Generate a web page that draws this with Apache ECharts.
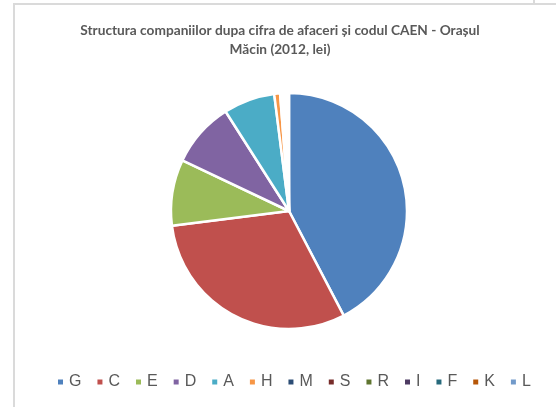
<!DOCTYPE html>
<html>
<head>
<meta charset="utf-8">
<script src="https://cdn.jsdelivr.net/npm/echarts@6/dist/echarts.min.js"></script>
<style>
html,body{margin:0;padding:0;background:#fff;}
#chart{width:556px;height:407px;}
</style>
</head>
<body>
<div id="chart"></div>
<script>
// Data (shares of turnover, %)
const categories = ['G','C','E','D','A','H','M','S','R','I','F','K','L'];
const values = [42.2, 30.6, 9.0, 8.9, 7.0, 0.8, 0.3, 0.25, 0.2, 0.15, 0.12, 0.1, 0.08];
const colors = ['#4F81BD','#C0504D','#9BBB59','#8064A2','#4BACC6','#F79646','#2C4D75','#772C2A','#5F7530','#4D3B62','#276A7C','#B65708','#729ACA'];
const titleText = 'Structura companiilor dupa cifra de afaceri și codul CAEN - Orașul\nMăcin (2012, lei)';

const chart = echarts.init(document.getElementById('chart'), null, {renderer:'canvas'});
const pieData = categories.map((c,i)=>({name:c, value:values[i], itemStyle:{color:colors[i]}}));

chart.setOption({
  animation:false,
  backgroundColor:'#fff',
  title:{
    text:titleText,
    left:275, top:16, textAlign:'center',
    textStyle:{fontFamily:'Lato, sans-serif', fontWeight:'bold', fontSize:13.7, color:'#595959', lineHeight:19}
  },
  legend:{
    data:categories,
    left:51, top:369, width:505,
    icon:'rect', itemWidth:7, itemHeight:7, itemGap:14,
    textStyle:{fontFamily:'"Liberation Sans", sans-serif', fontSize:16, color:'#595959'}
  },
  graphic:[
    {type:'rect', shape:{x:13, y:3, width:521, height:2}, style:{fill:'#dadada'}, silent:true},
    {type:'rect', shape:{x:13, y:3, width:2, height:404}, style:{fill:'#dadada'}, silent:true},
    {type:'rect', shape:{x:533, y:0, width:2, height:5}, style:{fill:'#dadada'}, silent:true},
    {type:'rect', shape:{x:535, y:3, width:21, height:2}, style:{fill:'#dadada'}, silent:true}
  ],
  series:[{
    type:'pie',
    center:[289,211],
    radius:118,
    startAngle:90,
    clockwise:true,
    avoidLabelOverlap:false,
    label:{show:false},
    labelLine:{show:false},
    emphasis:{disabled:true},
    itemStyle:{borderColor:'#fff', borderWidth:2.5},
    data:pieData
  }]
});
</script>
</body>
</html>
